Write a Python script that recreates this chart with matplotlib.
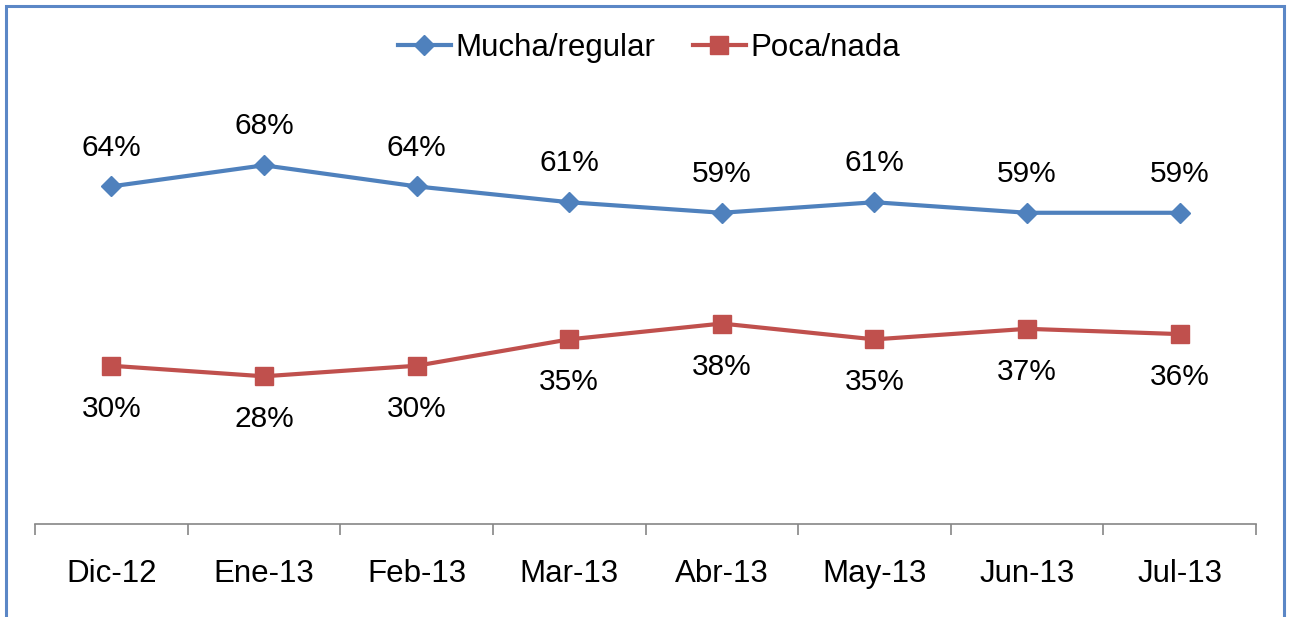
import matplotlib
matplotlib.use('Agg')
import matplotlib.pyplot as plt
import numpy as np
from matplotlib.patches import Rectangle

plt.rcParams['font.family'] = ['Liberation Sans', 'DejaVu Sans']

months = ['Dic-12', 'Ene-13', 'Feb-13', 'Mar-13', 'Abr-13', 'May-13', 'Jun-13', 'Jul-13']
mucha = [64, 68, 64, 61, 59, 61, 59, 59]
poca = [30, 28, 30, 35, 38, 35, 37, 36]

blue = '#4F81BD'
red = '#C0504D'

fig = plt.figure(figsize=(12.9, 6.17), dpi=100)
ax = fig.add_axes([35 / 1290, 93 / 617, 1221 / 1290, 422 / 617])

x = np.arange(len(months))
ax.plot(x, mucha, color=blue, lw=3, marker='D', ms=10.5, label='Mucha/regular')
ax.plot(x, poca, color=red, lw=3, marker='s', ms=13, label='Poca/nada')

for i in range(len(months)):
    ax.annotate(f'{mucha[i]}%', (x[i], mucha[i]), xytext=(0, 28), textcoords='offset points',
                ha='center', va='center', fontsize=21.5)
    ax.annotate(f'{poca[i]}%', (x[i], poca[i]), xytext=(0, -31), textcoords='offset points',
                ha='center', va='center', fontsize=21.5)

ax.set_xlim(-0.5, len(months) - 0.5)
ax.set_ylim(0, 80)
ax.set_xticks(x)
ax.set_xticklabels(months, fontsize=22.5)
ax.tick_params(axis='x', which='major', length=0, pad=25)
ax.set_xticks(np.arange(-0.5, len(months)), minor=True)
ax.tick_params(axis='x', which='minor', length=8, color='#868686', width=1.2)
ax.set_yticks([])
for s in ['top', 'right', 'left']:
    ax.spines[s].set_visible(False)
ax.spines['bottom'].set_color('#868686')
ax.spines['bottom'].set_linewidth(1.2)

fig.legend(loc='center', bbox_to_anchor=(649 / 1290, 1 - 48 / 617), ncol=2, frameon=False,
           fontsize=22.5, handlelength=1.7, columnspacing=1.2, handletextpad=0.15)

fig.patches.append(Rectangle((5.5 / 1290, -0.1), 1278.5 / 1290, 1.1 - 5.5 / 617,
                             transform=fig.transFigure, fill=False, edgecolor='#5B87C6', lw=2.2))

fig.savefig('out.png', dpi=100)
